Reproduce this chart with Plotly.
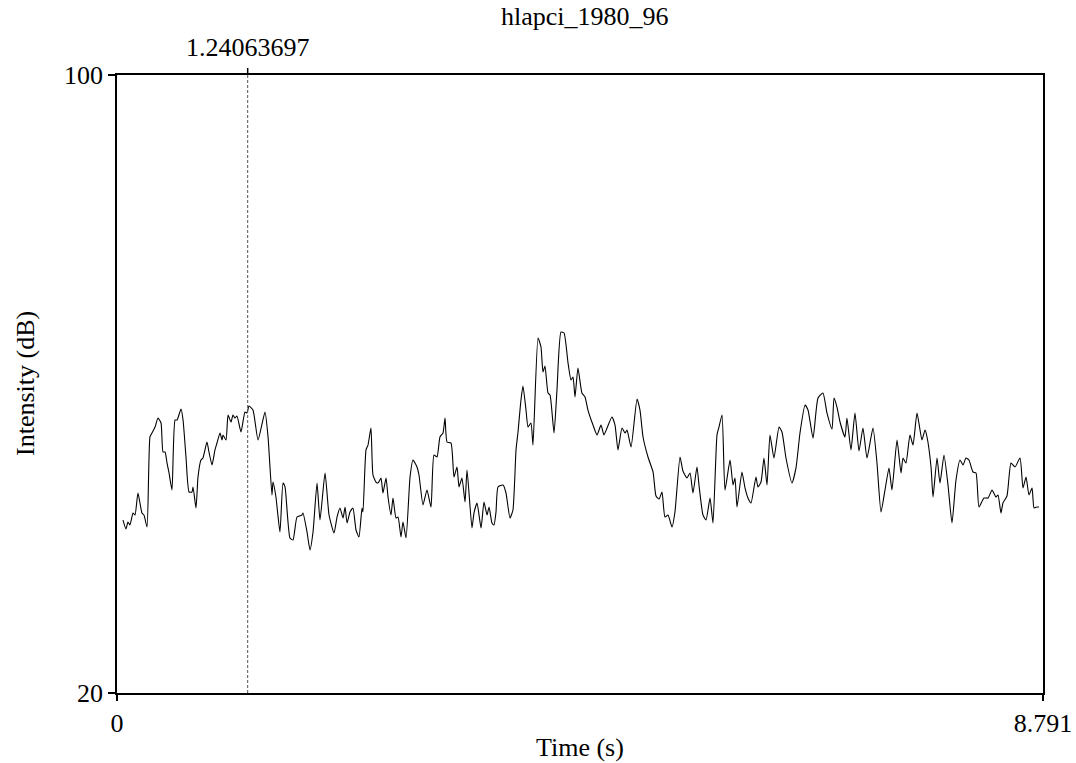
import plotly.graph_objects as go

title_text = "hlapci_1980_96"
cursor_time = 1.24063697
x_range = [0, 8.791]
y_range = [20, 100]
x_ticks = [0, 8.791]
x_tick_labels = ["0", "8.791"]
y_ticks = [20, 100]
y_tick_labels = ["20", "100"]

time_s = [
    0.057, 0.085, 0.104, 0.123, 0.152, 0.171, 0.199, 0.237, 0.256, 0.285,
    0.313, 0.332, 0.361, 0.389, 0.418, 0.437, 0.456, 0.475, 0.494, 0.522,
    0.551, 0.570, 0.608, 0.627, 0.655, 0.684, 0.712, 0.722, 0.750, 0.769,
    0.797, 0.816, 0.854, 0.873, 0.902, 0.930, 0.949, 0.978, 0.997, 1.006,
    1.035, 1.054, 1.082, 1.101, 1.120, 1.139, 1.177, 1.215, 1.234, 1.253,
    1.291, 1.339, 1.405, 1.434, 1.471, 1.481, 1.509, 1.547, 1.576, 1.595,
    1.642, 1.671, 1.709, 1.756, 1.766, 1.804, 1.832, 1.861, 1.899, 1.927,
    1.975, 2.013, 2.060, 2.089, 2.117, 2.146, 2.165, 2.184, 2.212, 2.240,
    2.269, 2.297, 2.326, 2.335, 2.364, 2.383, 2.411, 2.430, 2.459, 2.478,
    2.506, 2.525, 2.554, 2.573, 2.601, 2.620, 2.649, 2.668, 2.696, 2.715,
    2.744, 2.782, 2.810, 2.848, 2.867, 2.905, 2.943, 2.981, 3.009, 3.038,
    3.066, 3.095, 3.114, 3.133, 3.171, 3.199, 3.228, 3.247, 3.275, 3.304,
    3.323, 3.370, 3.389, 3.418, 3.456, 3.484, 3.513, 3.532, 3.560, 3.579,
    3.598, 3.617, 3.665, 3.693, 3.731, 3.759, 3.788, 3.807, 3.835, 3.854,
    3.883, 3.902, 3.930, 3.949, 3.997, 4.025, 4.044, 4.063, 4.092, 4.111,
    4.149, 4.177, 4.215, 4.244, 4.282, 4.310, 4.329, 4.348, 4.376, 4.414,
    4.443, 4.471, 4.519, 4.557, 4.595, 4.623, 4.652, 4.699, 4.728, 4.756,
    4.794, 4.823, 4.842, 4.880, 4.937, 4.965, 4.994, 5.041, 5.089, 5.117,
    5.146, 5.174, 5.202, 5.231, 5.269, 5.297, 5.345, 5.373, 5.411, 5.440,
    5.468, 5.506, 5.525, 5.563, 5.592, 5.630, 5.658, 5.696, 5.715, 5.744,
    5.772, 5.820, 5.848, 5.867, 5.886, 5.933, 5.962, 5.990, 6.019, 6.066,
    6.085, 6.114, 6.142, 6.171, 6.199, 6.237, 6.285, 6.313, 6.351, 6.408,
    6.446, 6.484, 6.532, 6.560, 6.608, 6.655, 6.702, 6.740, 6.788, 6.807,
    6.835, 6.864, 6.911, 6.930, 6.968, 7.006, 7.044, 7.082, 7.120, 7.177,
    7.215, 7.253, 7.291, 7.329, 7.357, 7.405, 7.443, 7.462, 7.490, 7.528,
    7.557, 7.595, 7.642, 7.671, 7.690, 7.728, 7.747, 7.785, 7.813, 7.851,
    7.889, 7.927, 7.965, 8.003, 8.032, 8.060, 8.088, 8.126, 8.155, 8.183,
    8.231, 8.269, 8.307, 8.345, 8.364, 8.392, 8.411, 8.449, 8.487, 8.525,
    8.573, 8.601, 8.630, 8.658, 8.687, 8.706, 8.734, 8.753,
]

intensity_db = [
    42.39, 41.23, 42.14, 41.75, 43.30, 43.04, 45.89, 43.30, 43.04, 41.49,
    53.14, 53.66, 54.43, 55.60, 54.95, 51.20, 51.20, 49.77, 48.48, 46.28,
    55.34, 55.34, 56.76, 55.34, 50.55, 46.02, 46.02, 46.67, 43.95, 47.96,
    50.16, 50.42, 52.49, 51.20, 49.51, 51.46, 52.36, 53.66, 52.75, 53.40,
    52.75, 55.99, 55.08, 55.99, 55.60, 55.86, 53.79, 56.38, 56.25, 57.15,
    56.63, 52.75, 56.38, 53.14, 45.63, 47.31, 45.37, 40.84, 47.18, 46.67,
    40.06, 39.81, 42.78, 43.04, 43.30, 40.84, 38.51, 40.84, 47.18, 42.39,
    48.48, 43.04, 40.71, 42.78, 43.95, 42.65, 44.08, 42.01, 43.43, 43.95,
    41.10, 40.19, 43.95, 43.43, 51.46, 52.10, 54.30, 48.22, 47.31, 47.18,
    47.83, 45.89, 47.83, 45.37, 43.04, 45.24, 42.65, 42.78, 40.19, 42.14,
    40.06, 47.96, 50.16, 49.26, 48.22, 44.34, 46.28, 44.08, 50.81, 50.55,
    53.14, 53.66, 55.60, 52.49, 52.36, 47.96, 49.26, 46.67, 47.83, 44.72,
    48.87, 41.36, 43.30, 44.60, 41.36, 44.72, 43.04, 44.08, 42.01, 41.75,
    43.43, 46.67, 46.93, 45.89, 42.65, 43.69, 51.46, 53.79, 57.93, 59.74,
    56.63, 54.43, 54.95, 52.10, 65.95, 64.79, 61.55, 62.33, 58.83, 58.58,
    53.66, 59.22, 66.73, 66.60, 62.72, 60.52, 60.91, 58.32, 62.07, 58.83,
    58.32, 56.63, 54.69, 53.40, 54.69, 53.40, 54.30, 55.73, 54.69, 51.46,
    54.30, 53.66, 54.05, 51.84, 58.06, 56.63, 53.14, 50.55, 48.61, 45.50,
    45.11, 46.02, 42.78, 43.04, 41.49, 43.43, 50.55, 48.74, 47.83, 48.48,
    45.89, 49.26, 46.93, 43.04, 42.39, 45.24, 42.01, 53.40, 54.43, 55.99,
    46.28, 50.16, 46.93, 47.83, 44.08, 48.61, 46.54, 45.24, 44.60, 47.96,
    46.67, 47.31, 50.42, 46.93, 53.40, 50.42, 54.43, 53.79, 50.42, 47.18,
    49.13, 53.66, 57.28, 56.63, 53.01, 58.19, 58.83, 56.25, 54.17, 58.19,
    57.02, 55.08, 53.14, 55.60, 51.46, 56.25, 51.33, 54.30, 50.42, 54.30,
    49.77, 43.43, 46.28, 49.13, 46.28, 52.75, 48.48, 50.42, 49.77, 53.40,
    52.10, 56.25, 52.75, 54.05, 53.14, 49.26, 45.37, 50.42, 47.18, 50.81,
    46.93, 42.01, 47.57, 50.16, 49.51, 50.42, 50.16, 48.61, 48.48, 44.08,
    45.24, 45.24, 46.28, 45.37, 45.63, 43.30, 44.60, 45.50, 49.77, 49.26,
    50.42, 46.54, 47.96, 45.63, 46.54, 43.95, 44.08, 44.08,
]

FONT = "Liberation Serif, Times New Roman, serif"
FS = 26

fig = go.Figure()
fig.add_trace(go.Scatter(
    x=time_s, y=intensity_db, mode="lines",
    line=dict(color="black", width=1.1, shape="spline", smoothing=0.5),
    hoverinfo="skip", showlegend=False,
))

# cursor line (dashed inside plot) and small solid tick above the frame
fig.add_shape(type="line", xref="x", yref="paper",
              x0=cursor_time, x1=cursor_time, y0=0, y1=1,
              line=dict(color="#555555", width=1, dash="3px,2px"))
fig.add_shape(type="line", xref="x", yref="paper",
              x0=cursor_time, x1=cursor_time, y0=1, y1=1 + 7 / 618,
              line=dict(color="black", width=1.5))

fig.add_annotation(text=f"{cursor_time:.8f}", xref="x", yref="paper",
                   x=cursor_time, y=1 + (75 - 47) / 618, xanchor="center", yanchor="middle",
                   showarrow=False, font=dict(family=FONT, size=FS, color="black"))
fig.add_annotation(text=title_text, xref="paper", yref="paper",
                   x=(585 - 117) / 926, y=1 + (75 - 17) / 618, xanchor="center", yanchor="middle",
                   showarrow=False, font=dict(family=FONT, size=FS, color="black"))
fig.add_annotation(text="Time (s)", xref="paper", yref="paper",
                   x=0.5, y=-(748 - 693) / 618, xanchor="center", yanchor="middle",
                   showarrow=False, font=dict(family=FONT, size=FS, color="black"))
fig.add_annotation(text="Intensity (dB)", xref="paper", yref="paper",
                   x=-(117 - 25) / 926, y=0.5, xanchor="center", yanchor="middle", textangle=-90,
                   showarrow=False, font=dict(family=FONT, size=FS, color="black"))

fig.update_layout(
    width=1076, height=763,
    margin=dict(l=117, r=33, t=75, b=70, pad=0, autoexpand=False),
    paper_bgcolor="white", plot_bgcolor="white",
    font=dict(family=FONT, size=FS, color="black"),
)
fig.update_xaxes(range=x_range, tickmode="array", tickvals=x_ticks, ticktext=x_tick_labels,
                 automargin=False,
                 showgrid=False, zeroline=False, showline=True, linecolor="black", linewidth=1.5,
                 mirror=True, ticks="outside", ticklen=6, tickwidth=1.5, tickcolor="black",
                 tickfont=dict(family=FONT, size=FS, color="black"))
fig.update_yaxes(range=y_range, tickmode="array", tickvals=y_ticks, ticktext=y_tick_labels,
                 automargin=False,
                 showgrid=False, zeroline=False, showline=True, linecolor="black", linewidth=1.5,
                 mirror=True, ticks="outside", ticklen=7, tickwidth=1.5, tickcolor="black",
                 tickfont=dict(family=FONT, size=FS, color="black"))

fig.write_html("out.html")
